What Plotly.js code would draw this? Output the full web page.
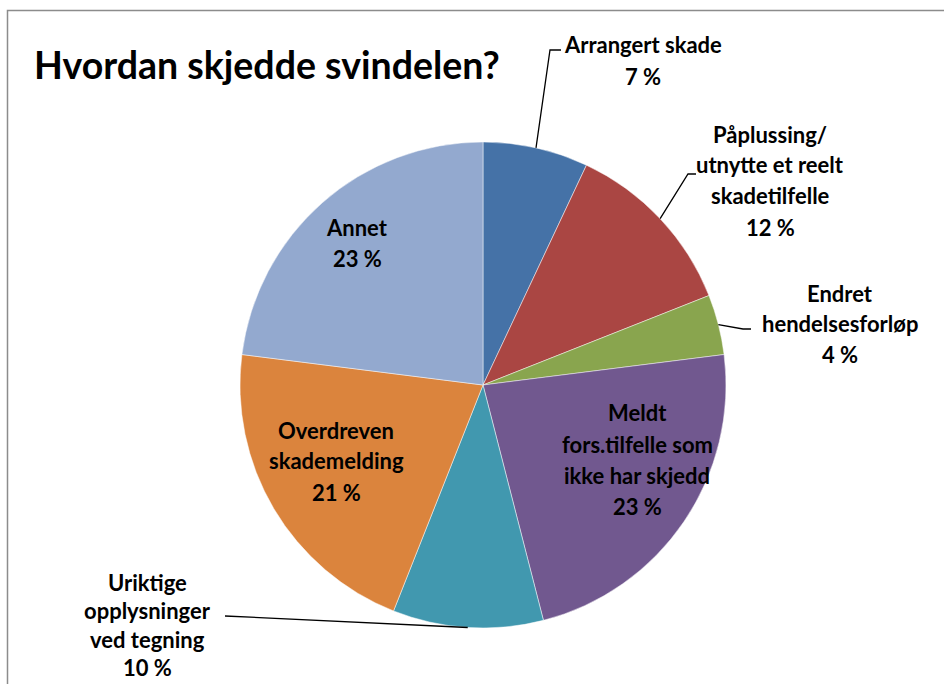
<!DOCTYPE html>
<html>
<head>
<meta charset="utf-8">
<script src="https://cdn.plot.ly/plotly-3.0.1.min.js"></script>
<style>html,body{margin:0;padding:0;background:#fff;}#chart{width:944px;height:684px;}</style>
</head>
<body>
<div id="chart"></div>
<script>
// ---- data ----
var categories = ["Arrangert skade", "Påplussing/ utnytte et reelt skadetilfelle", "Endret hendelsesforløp", "Meldt fors.tilfelle som ikke har skjedd", "Uriktige opplysninger ved tegning", "Overdreven skademelding", "Annet"];
var values = [7, 12, 4, 23, 10, 21, 23];
var percentLabels = ["7 %", "12 %", "4 %", "23 %", "10 %", "21 %", "23 %"];
var labelLines = [
  ["Arrangert skade"],
  ["Påplussing/", "utnytte et reelt", "skadetilfelle"],
  ["Endret", "hendelsesforløp"],
  ["Meldt", "fors.tilfelle som", "ikke har skjedd"],
  ["Uriktige", "opplysninger", "ved tegning"],
  ["Overdreven", "skademelding"],
  ["Annet"]
];
var colors = ["#4572A7", "#AA4643", "#89A54E", "#71588F", "#4198AF", "#DB843D", "#93A9CF"];
var titleText = "Hvordan skjedde svindelen?";

// ---- layout constants (pixels) ----
var W = 944, H = 684;
var cx = 483, cy = 385, R = 243;
// label block: center x, first line y
var labelPos = [
  [643, 45], [770, 134], [840, 293], [637, 413], [147, 582], [336, 430], [357, 228]
];
var lineSteps = [31, 31, 30.5, 31, 28.5, 31, 30];
// leader lines: elbow point and end point (null if not used)
var leaders = [
  [[550, 50], [561, 50]],
  [[688, 174], [696, 174]],
  [[743, 329], [751, 329]],
  null,
  [[225, 616], null],
  null,
  null
];

function px(x) { return x / W; }
function py(y) { return 1 - y / H; }

var total = values.reduce(function (a, b) { return a + b; }, 0);

var annotations = [];
var shapes = [];

// border
shapes.push({type: "rect", xref: "paper", yref: "paper", x0: px(7.5), x1: px(960), y0: py(700), y1: py(10.5),
  line: {color: "#8c8c8c", width: 1.5}, fillcolor: "rgba(0,0,0,0)"});

annotations.push({xref: "paper", yref: "paper", x: px(32), y: py(64), xanchor: "left", yanchor: "middle",
  text: "<b>" + titleText + "</b>", showarrow: false, font: {family: "Lato, 'Open Sans', sans-serif", size: 37.5, color: "#000"}});

var cum = 0;
for (var i = 0; i < values.length; i++) {
  var mid = cum + values[i] / 2;
  cum += values[i];
  var ang = mid / total * 2 * Math.PI;
  var rx = cx + R * Math.sin(ang), ry = cy - R * Math.cos(ang);
  var lines = labelLines[i].concat([percentLabels[i]]);
  for (var j = 0; j < lines.length; j++) {
    annotations.push({xref: "paper", yref: "paper", x: px(labelPos[i][0]), y: py(labelPos[i][1] + j * lineSteps[i]),
      xanchor: "center", yanchor: "middle", text: "<b>" + lines[j] + "</b>", showarrow: false,
      font: {family: "Lato, 'Open Sans', sans-serif", size: 22, color: "#000"}});
  }
  if (leaders[i]) {
    var p = "M" + px(rx) + "," + py(ry) + " L" + px(leaders[i][0][0]) + "," + py(leaders[i][0][1]);
    if (leaders[i][1]) p += " L" + px(leaders[i][1][0]) + "," + py(leaders[i][1][1]);
    shapes.push({type: "path", xref: "paper", yref: "paper", path: p, line: {color: "#000", width: 1.3}});
  }
}

var trace = {
  type: "pie",
  labels: categories,
  values: values,
  sort: false,
  direction: "clockwise",
  rotation: 0,
  textinfo: "none",
  hoverinfo: "label+percent",
  marker: {colors: colors, line: {color: "rgba(255,255,255,0.6)", width: 0.8}},
  domain: {x: [px(cx - R), px(cx + R)], y: [py(cy + R), py(cy - R)]},
  showlegend: false
};

var layout = {
  width: W, height: H,
  margin: {l: 0, r: 0, t: 0, b: 0},
  paper_bgcolor: "#fff",
  showlegend: false,
  annotations: annotations,
  shapes: shapes
};

Plotly.newPlot("chart", [trace], layout, {displayModeBar: false, staticPlot: true});
</script>
</body>
</html>
